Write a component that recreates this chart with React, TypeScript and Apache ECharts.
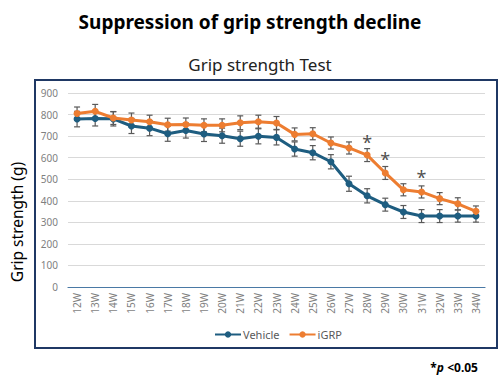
import React, { useEffect, useRef } from "react";
import * as echarts from "echarts";

const weeks = ["12W","13W","14W","15W","16W","17W","18W","19W","20W","21W","22W","23W","24W","25W","26W","27W","28W","29W","30W","31W","32W","33W","34W"];
const vehicle = [779,782,780,747,737,711,726,710,702,688,699,694,640,623,581,479,423,382,348,329,329,329,329];
const vehicleErr = [36,35,33,35,35,35,35,35,35,35,35,35,33,33,33,35,33,30,30,30,30,28,28];
const igrp = [805,815,784,775,767,753,754,750,750,762,767,761,708,711,668,645,612,529,451,441,410,386,351];
const igrpErr = [30,32,30,32,30,30,30,30,30,32,30,30,30,28,28,28,30,30,28,28,28,28,25];
const sigPoints = [["28W", 674], ["29W", 595], ["31W", 512]];
const yTicks = { min: 0, max: 900, interval: 100 };

const BLUE = "#1e5d80";
const ORANGE = "#ed7d31";
const ERR = "#595959";
const FONT = "Noto Sans";

function errData(vals: number[], errs: number[]) {
  return vals.map((v, i) => [i, v - errs[i], v + errs[i]]);
}

function errSeries(name: string, vals: number[], errs: number[]) {
  return {
    type: "custom",
    name: name + "-err",
    data: errData(vals, errs),
    encode: { x: 0, y: [1, 2] },
    silent: true,
    z: 1,
    renderItem: (params: any, api: any) => {
      const x = api.value(0);
      const lo = api.coord([x, api.value(1)]);
      const hi = api.coord([x, api.value(2)]);
      const w = 3;
      const style = { stroke: ERR, lineWidth: 1.2 };
      return {
        type: "group",
        children: [
          { type: "line", shape: { x1: lo[0], y1: lo[1], x2: hi[0], y2: hi[1] }, style },
          { type: "line", shape: { x1: lo[0] - w, y1: lo[1], x2: lo[0] + w, y2: lo[1] }, style },
          { type: "line", shape: { x1: hi[0] - w, y1: hi[1], x2: hi[0] + w, y2: hi[1] }, style },
        ],
      };
    },
  };
}

export default function App() {
  const ref = useRef<HTMLDivElement>(null);
  useEffect(() => {
    if (!ref.current) return;
    const chart = echarts.init(ref.current, null, { renderer: "svg" });
    chart.setOption({
      animation: false,
      backgroundColor: "#ffffff",
      textStyle: { fontFamily: FONT },
      title: [
        {
          text: "Suppression of grip strength decline",
          left: "center",
          top: 7,
          textStyle: { fontFamily: FONT, fontWeight: "bold", fontSize: 19, color: "#000" },
        },
        {
          text: "Grip strength Test",
          left: 255,
          textAlign: "center",
          top: 51,
          textStyle: { fontFamily: FONT, fontWeight: "normal", fontSize: 17, color: "#222" },
        },
      ],
      legend: {
        data: ["Vehicle", "iGRP"],
        left: 209,
        top: 324,
        itemWidth: 26,
        itemHeight: 8,
        itemGap: 9,
        textStyle: { color: "#595959", fontSize: 11, fontFamily: FONT, padding: [0, 0, 0, -3] },
      },
      grid: { left: 68, right: 15, top: 93, bottom: 97, containLabel: false, outerBoundsMode: "none" },
      xAxis: {
        type: "category",
        data: weeks,
        boundaryGap: true,
        axisTick: { show: false },
        axisLine: { lineStyle: { color: "#4a79a5", width: 1.2 } },
        axisLabel: { rotate: 90, color: "#7f7f7f", fontSize: 10, margin: 6, fontFamily: FONT },
      },
      yAxis: {
        type: "value",
        min: yTicks.min,
        max: yTicks.max,
        interval: yTicks.interval,
        axisLine: { show: false },
        axisTick: { show: false },
        axisLabel: { color: "#7f7f7f", fontSize: 10, margin: 10, fontFamily: FONT },
        splitLine: { lineStyle: { color: "#d9d9d9", width: 1 } },
      },
      graphic: [
        {
          type: "rect",
          shape: { x: 35, y: 80, width: 462, height: 268 },
          style: { fill: "none", stroke: "#1f3864", lineWidth: 2 },
          silent: true,
        },
        {
          type: "text",
          x: 17,
          y: 222,
          rotation: Math.PI / 2,
          style: {
            text: "Grip strength (g)",
            fontFamily: FONT,
            fontSize: 15.5,
            fill: "#000",
            align: "center",
            verticalAlign: "middle",
          },
        },
        {
          type: "text",
          x: 478,
          y: 367,
          style: {
            rich: {
              a: { fontFamily: FONT, fontSize: 12, fontWeight: "bold", fill: "#000" },
              b: { fontFamily: FONT, fontSize: 12, fontWeight: "bold", fontStyle: "italic", fill: "#000" },
            },
            text: "{a|*}{b|p} {a|<0.05}",
            align: "right",
            verticalAlign: "middle",
          },
        },
      ],
      series: [
        errSeries("Vehicle", vehicle, vehicleErr),
        errSeries("iGRP", igrp, igrpErr),
        {
          type: "line",
          name: "Vehicle",
          data: vehicle,
          symbol: "circle",
          symbolSize: 7,
          lineStyle: { color: BLUE, width: 3 },
          itemStyle: { color: BLUE },
          z: 3,
        },
        {
          type: "line",
          name: "iGRP",
          data: igrp,
          symbol: "circle",
          symbolSize: 7,
          lineStyle: { color: ORANGE, width: 3 },
          itemStyle: { color: ORANGE },
          z: 4,
        },
        {
          type: "scatter",
          name: "sig",
          data: sigPoints,
          symbolSize: 1,
          itemStyle: { color: "rgba(0,0,0,0)" },
          silent: true,
          label: {
            show: true,
            position: "inside",
            formatter: "*",
            fontSize: 18,
            color: "#222",
            fontFamily: FONT,
          },
          z: 5,
        },
      ],
    });
    return () => chart.dispose();
  }, []);
  return (
    <div
      ref={ref}
      style={{ position: "fixed", left: 0, top: 0, width: 500, height: 384 }}
    />
  );
}
